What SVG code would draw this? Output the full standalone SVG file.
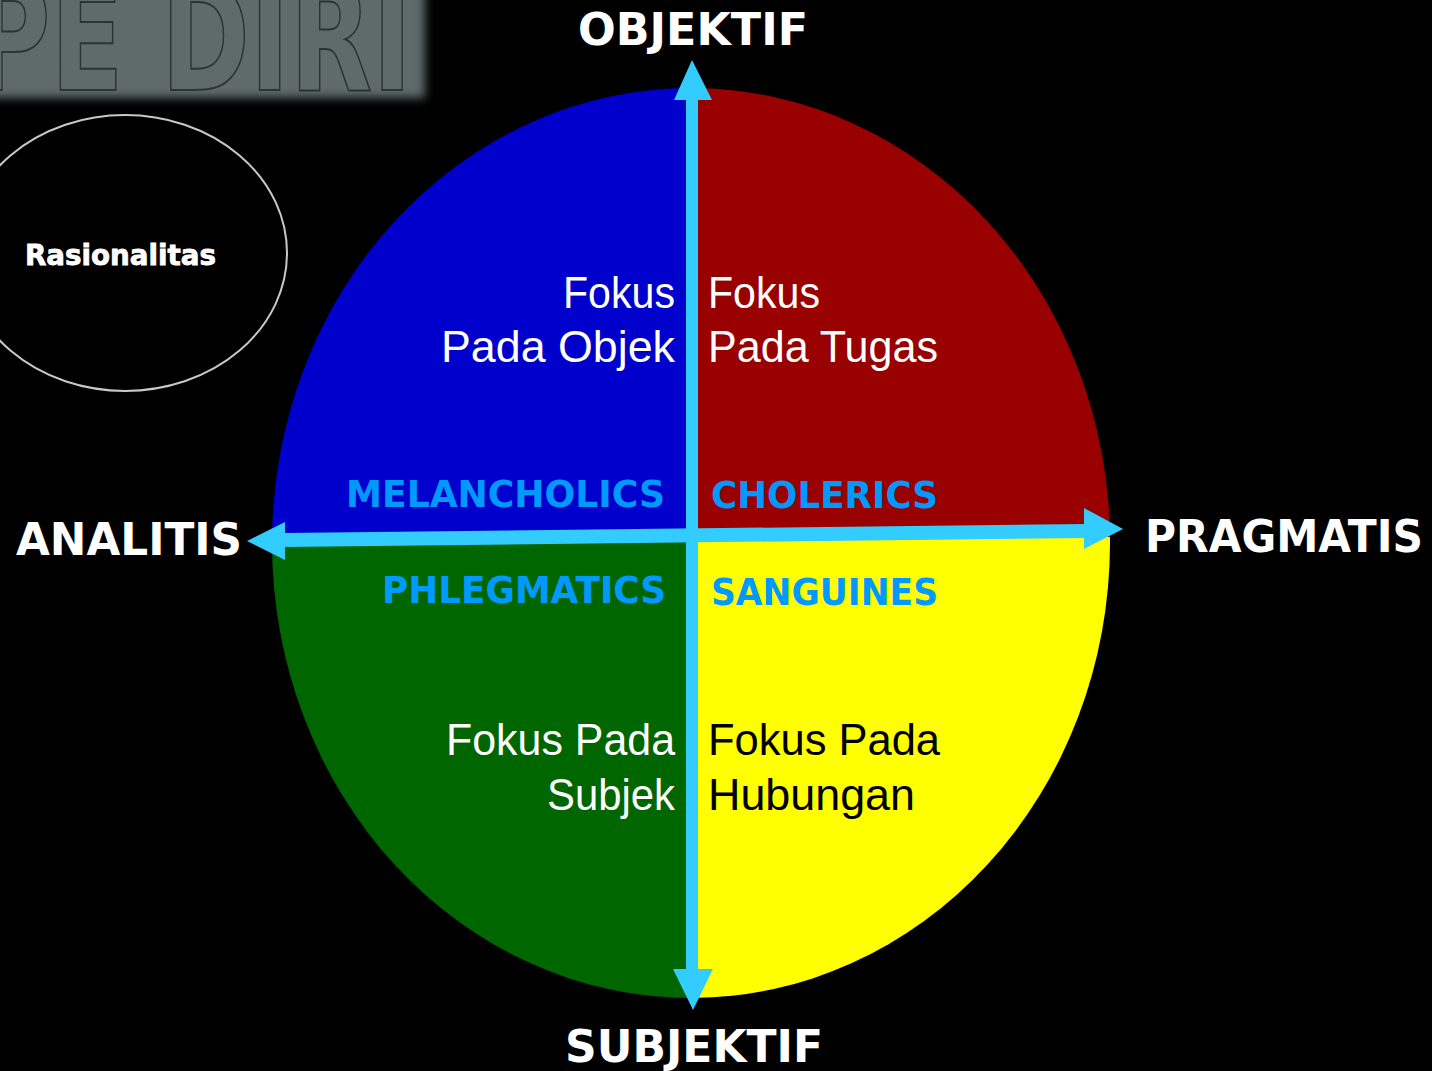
<svg xmlns="http://www.w3.org/2000/svg" width="1432" height="1071" viewBox="0 0 1432 1071">
<defs>
<style>
.axis{font-family:"DejaVu Sans","Liberation Sans",sans-serif;font-weight:bold;fill:#ffffff;font-size:44px}
.quad{font-family:"Liberation Sans","Noto Sans",sans-serif;font-size:44px}
.tag{font-family:"DejaVu Sans","Liberation Sans",sans-serif;font-weight:900;fill:#0099ff;font-size:37px}
.cyan{fill:#33ccff}
</style>
<filter id="blur" x="-20%" y="-50%" width="140%" height="200%"><feGaussianBlur stdDeviation="5"/></filter>
<clipPath id="cTL"><rect x="0" y="0" width="692" height="537"/></clipPath>
<clipPath id="cTR"><rect x="692" y="0" width="740" height="537"/></clipPath>
<clipPath id="cBL"><rect x="0" y="537" width="692" height="534"/></clipPath>
<clipPath id="cBR"><rect x="692" y="537" width="740" height="534"/></clipPath>
</defs>
<rect x="0" y="0" width="1432" height="1071" fill="#000000"/>

<g id="title">
<rect x="-20" y="-20" width="445" height="118" fill="#5f6b6b" filter="url(#blur)"/>
<text x="-28" y="90" font-family="DejaVu Sans, Liberation Sans, sans-serif" font-weight="bold" font-size="150" fill="#5f6b6b" stroke="#2a3434" stroke-width="2" textLength="440" lengthAdjust="spacingAndGlyphs">PE DIRI</text>
</g>

<g id="rasionalitas">
<ellipse cx="125" cy="253" rx="162" ry="138" fill="none" stroke="#c8c8c8" stroke-width="2"/>
<text x="25" y="265" font-family="DejaVu Sans, Liberation Sans, sans-serif" font-weight="bold" font-size="28" fill="#ffffff" stroke="#ffffff" stroke-width="0.8" textLength="191" lengthAdjust="spacingAndGlyphs">Rasionalitas</text>
</g>

<g id="melancholics">
<ellipse cx="691" cy="543" rx="419" ry="455" fill="#0000cc" clip-path="url(#cTL)"/>
<text class="quad" x="675" y="308" text-anchor="end" fill="#ffffff" textLength="112" lengthAdjust="spacingAndGlyphs">Fokus</text>
<text class="quad" x="675" y="362" text-anchor="end" fill="#ffffff" textLength="234" lengthAdjust="spacingAndGlyphs">Pada Objek</text>
<text class="tag" x="346" y="507" textLength="319" lengthAdjust="spacingAndGlyphs">MELANCHOLICS</text>
</g>

<g id="cholerics">
<ellipse cx="691" cy="543" rx="419" ry="455" fill="#990000" clip-path="url(#cTR)"/>
<text class="quad" x="708" y="308" fill="#ffffff" textLength="112" lengthAdjust="spacingAndGlyphs">Fokus</text>
<text class="quad" x="708" y="362" fill="#ffffff" textLength="230" lengthAdjust="spacingAndGlyphs">Pada Tugas</text>
<text class="tag" x="711" y="508" textLength="227" lengthAdjust="spacingAndGlyphs">CHOLERICS</text>
</g>

<g id="phlegmatics">
<ellipse cx="691" cy="543" rx="419" ry="455" fill="#006600" clip-path="url(#cBL)"/>
<text class="tag" x="382" y="603" textLength="284" lengthAdjust="spacingAndGlyphs">PHLEGMATICS</text>
<text class="quad" x="675" y="755" text-anchor="end" fill="#ffffff" textLength="229" lengthAdjust="spacingAndGlyphs">Fokus Pada</text>
<text class="quad" x="675" y="810" text-anchor="end" fill="#ffffff" textLength="128" lengthAdjust="spacingAndGlyphs">Subjek</text>
</g>

<g id="sanguines">
<ellipse cx="691" cy="543" rx="419" ry="455" fill="#ffff00" clip-path="url(#cBR)"/>
<text class="tag" x="711" y="605" textLength="227" lengthAdjust="spacingAndGlyphs">SANGUINES</text>
<text class="quad" x="708" y="755" fill="#000000" textLength="232" lengthAdjust="spacingAndGlyphs">Fokus Pada</text>
<text class="quad" x="708" y="810" fill="#000000" textLength="207" lengthAdjust="spacingAndGlyphs">Hubungan</text>
</g>

<g id="connectors">
<rect class="cyan" x="686" y="98" width="12" height="873"/>
<polygon class="cyan" points="692,60 674,100 712,100"/>
<polygon class="cyan" points="693,1010 673,969 713,969"/>
<polygon class="cyan" points="284,533 1086,524 1086,538 284,547"/>
<polygon class="cyan" points="247,541 285,522 285,560"/>
<polygon class="cyan" points="1123,529 1084,508 1084,549"/>
</g>

<g id="axis-labels">
<text class="axis" x="578" y="45" textLength="230" lengthAdjust="spacingAndGlyphs">OBJEKTIF</text>
<text class="axis" x="16" y="555" textLength="226" lengthAdjust="spacingAndGlyphs">ANALITIS</text>
<text class="axis" x="1145" y="552" textLength="278" lengthAdjust="spacingAndGlyphs">PRAGMATIS</text>
<text class="axis" x="565" y="1062" textLength="258" lengthAdjust="spacingAndGlyphs">SUBJEKTIF</text>
</g>
</svg>
